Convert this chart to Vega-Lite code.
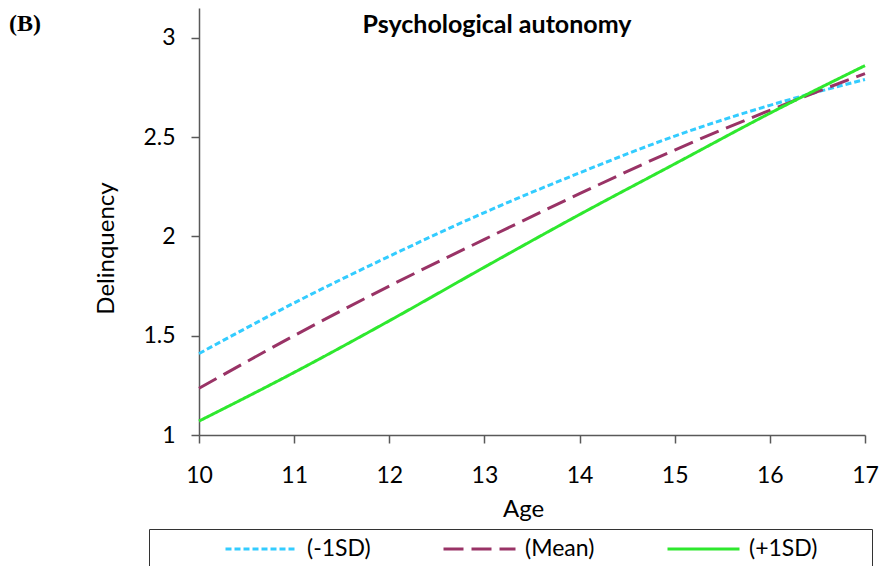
{
  "$schema": "https://vega.github.io/schema/vega-lite/v6.json",
  "padding": {"left": 8, "top": 8, "right": 0, "bottom": 0},
  "background": "white",
  "title": {"text": "(B)", "anchor": "start", "frame": "bounds", "font": "Liberation Serif", "fontSize": 24, "fontWeight": "bold", "color": "black", "offset": -28, "dx": -86},
  "config": {
    "view": {"stroke": null},
    "font": "Lato",
    "axis": {"grid": false, "domainColor": "#595959", "domainWidth": 1.5, "tickColor": "#595959", "tickWidth": 1.5, "tickSize": 8, "labelColor": "black", "titleColor": "black", "labelFont": "Lato", "titleFont": "Lato", "labelFontSize": 23, "titleFontSize": 24, "titleFontWeight": "normal", "labelFlush": false}
  },
  "vconcat": [
    {
      "width": 666,
      "height": 427,
      "title": {"text": "Psychological autonomy", "font": "Lato", "fontSize": 25, "fontWeight": "bold", "color": "black", "anchor": "middle", "offset": -30, "dx": -35},
      "data": {
        "values": [
          {"age": 10, "series": "(-1SD)", "delinquency": 1.41},
          {"age": 11, "series": "(-1SD)", "delinquency": 1.665},
          {"age": 12, "series": "(-1SD)", "delinquency": 1.9},
          {"age": 13, "series": "(-1SD)", "delinquency": 2.12},
          {"age": 14, "series": "(-1SD)", "delinquency": 2.32},
          {"age": 15, "series": "(-1SD)", "delinquency": 2.505},
          {"age": 16, "series": "(-1SD)", "delinquency": 2.66},
          {"age": 17, "series": "(-1SD)", "delinquency": 2.79},
          {"age": 10, "series": "(Mean)", "delinquency": 1.235},
          {"age": 11, "series": "(Mean)", "delinquency": 1.5},
          {"age": 12, "series": "(Mean)", "delinquency": 1.75},
          {"age": 13, "series": "(Mean)", "delinquency": 1.985},
          {"age": 14, "series": "(Mean)", "delinquency": 2.215},
          {"age": 15, "series": "(Mean)", "delinquency": 2.435},
          {"age": 16, "series": "(Mean)", "delinquency": 2.635},
          {"age": 17, "series": "(Mean)", "delinquency": 2.82},
          {"age": 10, "series": "(+1SD)", "delinquency": 1.07},
          {"age": 11, "series": "(+1SD)", "delinquency": 1.315},
          {"age": 12, "series": "(+1SD)", "delinquency": 1.575},
          {"age": 13, "series": "(+1SD)", "delinquency": 1.845},
          {"age": 14, "series": "(+1SD)", "delinquency": 2.11},
          {"age": 15, "series": "(+1SD)", "delinquency": 2.365},
          {"age": 16, "series": "(+1SD)", "delinquency": 2.62},
          {"age": 17, "series": "(+1SD)", "delinquency": 2.86}
        ]
      },
      "mark": {"type": "line", "interpolate": "monotone", "strokeWidth": 3, "clip": false},
      "encoding": {
        "x": {"field": "age", "type": "quantitative", "scale": {"domain": [10, 17], "nice": false, "zero": false},
              "axis": {"values": [10, 11, 12, 13, 14, 15, 16, 17], "title": "Age", "labelPadding": 21, "titlePadding": 10, "titleX": 324}},
        "y": {"field": "delinquency", "type": "quantitative", "scale": {"domain": [1, 3.15], "nice": false, "zero": false},
              "axis": {"values": [1, 1.5, 2, 2.5, 3], "format": "~g", "title": "Delinquency", "labelPadding": 16, "titlePadding": 24, "titleY": 240}},
        "color": {"field": "series", "type": "nominal",
                  "scale": {"domain": ["(-1SD)", "(Mean)", "(+1SD)"], "range": ["#33CCFF", "#993366", "#2EE82E"]},
                  "legend": {"title": "\u00a0", "titleOrient": "right", "titlePadding": 48, "titleFontSize": 10,
                             "orient": "none", "legendX": -50, "legendY": 521, "direction": "horizontal",
                             "strokeColor": "#333333", "padding": 7, "symbolOffset": 68, "symbolType": "stroke", "symbolSize": 5184,
                             "clipHeight": 26,
                             "symbolStrokeWidth": 3, "labelFont": "Lato", "labelFontSize": 23, "labelColor": "black", "labelOffset": 8,
                             "columnPadding": 3, "labelLimit": 400}},
        "strokeDash": {"field": "series", "type": "nominal",
                       "scale": {"domain": ["(-1SD)", "(Mean)", "(+1SD)"], "range": [[6, 3], [20, 8], [1, 0]]}}
      }
    }
  ]
}
